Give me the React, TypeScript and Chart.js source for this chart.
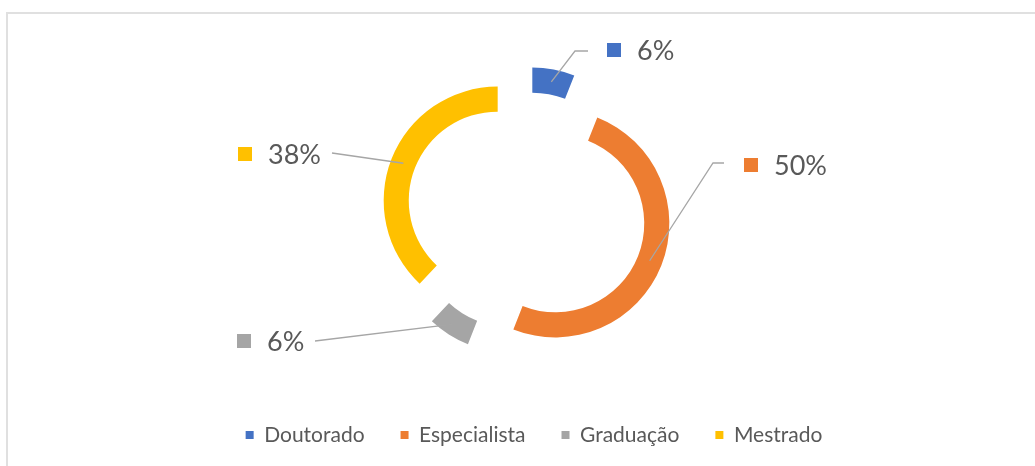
import React, { useEffect, useRef } from "react";
import { Chart, registerables } from "chart.js";

Chart.register(...registerables);

// ---- data ----
const categories = ["Doutorado", "Especialista", "Graduação", "Mestrado"];
const shares = [6, 50, 6, 38];
const colors = ["#4472C4", "#ED7D31", "#A5A5A5", "#FFC000"];

// ---- label layout (annotation positions, canvas px) ----
const labelElbows: number[][][] = [
  [[575, 51], [588, 51]],
  [[713, 163], [724, 163]],
  [[315, 341]],
  [[332, 153]],
];
const labelBoxX = [607, 744, 237, 238];
const labelY = [50, 165, 341, 154];

const FONT = "Lato, 'Open Sans', sans-serif";
const TEXT_COLOR = "#595959";
const EXPLODE = 31;

const explodePlugin = {
  id: "explode",
  beforeDatasetDraw(chart: any, args: any) {
    const ctx = chart.ctx;
    args.meta.data.forEach((arc: any) => {
      const half = (arc.startAngle + arc.endAngle) / 2;
      ctx.save();
      ctx.translate(Math.cos(half) * EXPLODE, Math.sin(half) * EXPLODE);
      arc.draw(ctx, chart.chartArea);
      ctx.restore();
    });
    return false;
  },
  afterDatasetsDraw(chart: any) {
    const ctx = chart.ctx;
    const meta = chart.getDatasetMeta(0);
    const total = shares.reduce((a, b) => a + b, 0);
    meta.data.forEach((arc: any, i: number) => {
      const half = (arc.startAngle + arc.endAngle) / 2;
      const r = (arc.innerRadius + arc.outerRadius) / 2 + EXPLODE;
      const sx = arc.x + Math.cos(half) * r;
      const sy = arc.y + Math.sin(half) * r;
      ctx.save();
      ctx.strokeStyle = "#A6A6A6";
      ctx.lineWidth = 1.3;
      ctx.beginPath();
      ctx.moveTo(sx, sy);
      labelElbows[i].forEach((p) => ctx.lineTo(p[0], p[1]));
      ctx.stroke();
      const bx = labelBoxX[i];
      const by = labelY[i];
      ctx.fillStyle = colors[i];
      ctx.fillRect(bx, by - 7, 14, 14);
      ctx.fillStyle = TEXT_COLOR;
      ctx.font = `27px ${FONT}`;
      ctx.textBaseline = "middle";
      ctx.textAlign = "left";
      const pct = Math.round((shares[i] / total) * 100);
      ctx.fillText(`${pct}%`, bx + 30, by + 1);
      ctx.restore();
    });
  },
  afterLayout(chart: any) {
    if (chart.legend) {
      chart.legend.left += 7.5;
      chart.legend.right += 7.5;
    }
  },
};

export default function App() {
  const ref = useRef<HTMLCanvasElement | null>(null);
  useEffect(() => {
    if (!ref.current) return;
    const chart = new Chart(ref.current, {
      type: "doughnut",
      data: {
        labels: categories,
        datasets: [
          {
            data: shares,
            backgroundColor: colors,
            borderWidth: 0,
            offset: 0,
          },
        ],
      },
      options: {
        responsive: false,
        animation: false,
        devicePixelRatio: 1,
        radius: 114,
        cutout: "78%",
        events: [],
        layout: { padding: { left: 18, right: 0, top: 35.5, bottom: 10.5 } },
        plugins: {
          tooltip: { enabled: false },
          legend: {
            display: true,
            position: "bottom",
            labels: {
              boxWidth: 8,
              boxHeight: 8,
              padding: 36,
              color: TEXT_COLOR,
              font: { family: FONT, size: 21 },
            },
          },
        },
      } as any,
      plugins: [explodePlugin as any],
    });
    let alive = true;
    if ((document as any).fonts) {
      Promise.all([
        (document as any).fonts.load(`21px Lato`),
        (document as any).fonts.load(`27px Lato`),
      ]).then(() => {
        if (alive) chart.update();
      });
    }
    return () => {
      alive = false;
      chart.destroy();
    };
  }, []);

  return (
    <div
      style={{
        position: "fixed",
        left: 0,
        top: 0,
        width: 1035,
        height: 466,
        background: "#fff",
        overflow: "hidden",
      }}
    >
      <div
        style={{
          position: "absolute",
          left: 6,
          top: 12,
          width: 1100,
          height: 500,
          borderTop: "2px solid #e0e0e0",
          borderLeft: "2px solid #e0e0e0",
          boxSizing: "border-box",
        }}
      />
      <canvas
        ref={ref}
        width={1035}
        height={466}
        style={{ position: "absolute", left: 0, top: 0, width: 1035, height: 466 }}
      />
    </div>
  );
}
